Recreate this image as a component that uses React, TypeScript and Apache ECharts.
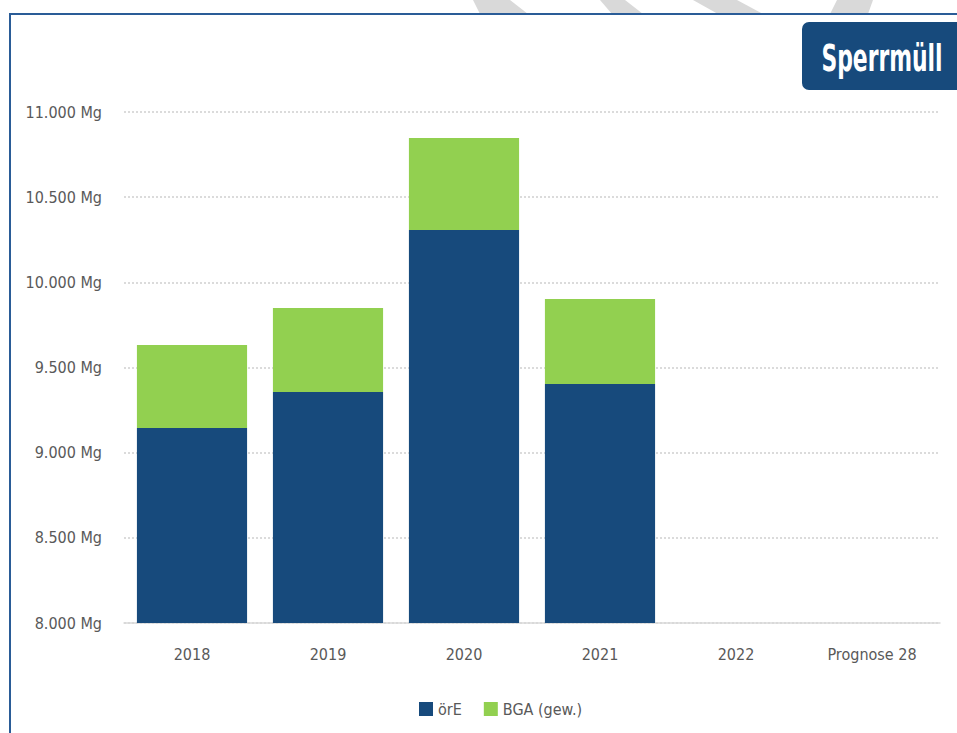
import React, { useEffect, useRef } from "react";
import * as echarts from "echarts";

const categories = ["2018", "2019", "2020", "2021", "2022", "Prognose 28"];
const oreValues: (number | null)[] = [9145, 9356, 10307, 9403, null, null];
const bgaValues: (number | null)[] = [487, 493, 540, 499, null, null];
const seriesNames = ["örE", "BGA (gew.)"];
const yMin = 8000;
const yMax = 11000;
const yStep = 500;
const titleText = "Sperrmüll";

const BLUE = "#174a7c";
const GREEN = "#92d050";
const FONT = "'DejaVu Sans Condensed', 'Liberation Sans Narrow', 'DejaVu Sans', sans-serif";

const fmt = (v: number) => {
  const s = String(Math.round(v));
  return s.replace(/\B(?=(\d{3})+(?!\d))/g, ".") + " Mg";
};

export default function App() {
  const ref = useRef<HTMLDivElement>(null);
  useEffect(() => {
    if (!ref.current) return;
    const chart = echarts.init(ref.current, null, { renderer: "svg" });
    const wm = "#d9d9d9";
    chart.setOption({
      animation: false,
      backgroundColor: "#ffffff",
      textStyle: { fontFamily: FONT },
      grid: { left: 124, right: 17, top: 112, bottom: 110, containLabel: false },
      legend: {
        left: 414,
        top: 696,
        itemWidth: 14,
        itemHeight: 14,
        itemGap: 22,
        itemTextGap: 4,
        icon: "rect",
        textStyle: { fontFamily: FONT, fontSize: 16, color: "#595959" },
        data: seriesNames,
      },
      xAxis: {
        type: "category",
        data: categories,
        axisLine: { lineStyle: { color: "#d9d9d9", width: 1.5 } },
        axisTick: { show: false },
        axisLabel: { color: "#595959", fontSize: 16, fontFamily: FONT, margin: 23 },
      },
      yAxis: {
        type: "value",
        min: yMin,
        max: yMax,
        interval: yStep,
        axisLine: { show: false },
        axisTick: { show: false },
        axisLabel: { color: "#595959", fontSize: 16, fontFamily: FONT, margin: 22, formatter: fmt },
        splitLine: { lineStyle: { color: "#d0d0d0", type: [2, 2], width: 1.5 } },
      },
      series: [
        {
          name: seriesNames[0],
          type: "bar",
          stack: "total",
          barWidth: "81%",
          data: oreValues,
          itemStyle: { color: BLUE },
        },
        {
          name: seriesNames[1],
          type: "bar",
          stack: "total",
          barWidth: "81%",
          data: bgaValues,
          itemStyle: { color: GREEN },
        },
      ],
      graphic: [
        { type: "polygon", z: 0, shape: { points: [[473, 0], [510, 0], [528, 14], [480, 14]] }, style: { fill: wm } },
        { type: "polygon", z: 0, shape: { points: [[600, 0], [625, 0], [643, 14], [612, 14]] }, style: { fill: wm } },
        { type: "polygon", z: 0, shape: { points: [[693, 0], [737, 0], [763, 14], [718, 14]] }, style: { fill: wm } },
        { type: "polygon", z: 0, shape: { points: [[837, 0], [873, 0], [868, 14], [830, 14]] }, style: { fill: wm } },
        {
          type: "rect",
          z: 1,
          shape: { x: 10, y: 14, width: 1000, height: 800 },
          style: { fill: "none", stroke: "#2a5c97", lineWidth: 2 },
        },
        {
          type: "rect",
          z: 10,
          shape: { x: 802, y: 22, width: 180, height: 68, r: 7 },
          style: { fill: BLUE },
        },
        {
          type: "text",
          z: 11,
          x: 882,
          y: 58,
          scaleX: 0.64,
          style: {
            text: titleText,
            fill: "#ffffff",
            font: "bold 38px " + FONT,
            textAlign: "center",
            textVerticalAlign: "middle",
          },
        },
      ],
    });
    return () => chart.dispose();
  }, []);
  return (
    <div
      ref={ref}
      style={{ position: "absolute", left: 0, top: 0, width: 957, height: 733 }}
    />
  );
}
